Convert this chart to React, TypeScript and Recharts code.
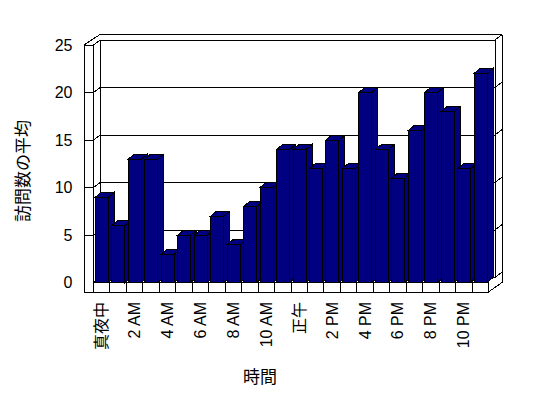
import { Bar, BarChart, CartesianGrid, Label, XAxis, YAxis } from 'recharts';

// Average visits per hour of day.
const HOURS = [
  '真夜中', '1 AM', '2 AM', '3 AM', '4 AM', '5 AM', '6 AM', '7 AM', '8 AM', '9 AM', '10 AM', '11 AM',
  '正午', '1 PM', '2 PM', '3 PM', '4 PM', '5 PM', '6 PM', '7 PM', '8 PM', '9 PM', '10 PM', '11 PM',
];
const VISITS = [9, 6, 13, 13, 3, 5, 5, 7, 4, 8, 10, 14, 14, 12, 15, 12, 20, 14, 11, 16, 20, 18, 12, 22];
const Y_TICKS = [0, 5, 10, 15, 20, 25];

const data = HOURS.map((hour, i) => ({ hour, visits: VISITS[i] }));

// Layout
const WIDTH = 548;
const HEIGHT = 398;
const PLOT_LEFT = 93.5;
const PLOT_RIGHT = 488.5;
const PLOT_TOP = 45;
const PLOT_BOTTOM = 282.5;
const XAXIS_H = 40;

// 3D box geometry
const DX = 6.5; // depth of the plot box, x
const DY = 5; // depth of the plot box, y
const WALL = 9.5; // left wall front face thickness
const OUT_DX = 7; // back wall thickness
const OUT_DY = 5.5;
const FLOOR = 9.5; // floor slab thickness
const BAR_DX = 6;
const BAR_DY = 5;

const NAVY = '#000080';
const FONT = "'Liberation Sans', Arial, 'Noto Sans CJK JP', sans-serif";
const LINE = { stroke: '#000', strokeWidth: 1, shapeRendering: 'crispEdges' as const };

function GridLine(props: any) {
  const { y1, index } = props;
  const L = props.x1 ?? PLOT_LEFT;
  const R = props.x2 ?? PLOT_RIGHT;
  const top = props.y ?? PLOT_TOP;
  const bottom = props.height != null ? top + props.height : PLOT_BOTTOM;
  const yb = y1 - DY;
  const isBottom = index === 0;
  const isTop = index === Y_TICKS.length - 1;
  const band = (R - L) / HOURS.length;
  const outerRight = R + DX + OUT_DX;

  return (
    <g {...LINE} fill="none">
      {/* tick on the left wall front, slant into the back wall, back wall line, right slant */}
      {!isBottom && <line x1={L - WALL} y1={y1} x2={L} y2={y1} />}
      <line x1={L} y1={y1} x2={L + DX} y2={yb} />
      <line x1={L + DX} y1={yb} x2={R + DX} y2={yb} />
      <line x1={R + DX} y1={yb} x2={outerRight} y2={yb - OUT_DY} />
      {isTop && (
        <>
          <line x1={L - WALL} y1={y1} x2={L + DX} y2={yb - OUT_DY} />
          <line x1={L + DX} y1={yb - OUT_DY} x2={outerRight} y2={yb - OUT_DY} />
        </>
      )}
      {isBottom && (
        <>
          {/* walls */}
          <line x1={L - WALL} y1={top} x2={L - WALL} y2={bottom + FLOOR} />
          <line x1={L} y1={top} x2={L} y2={bottom} />
          <line x1={L + DX} y1={top - DY} x2={L + DX} y2={bottom - DY} />
          <line x1={R + DX} y1={top - DY} x2={R + DX} y2={bottom - DY} />
          <line x1={outerRight} y1={top - DY - OUT_DY} x2={outerRight} y2={bottom} />
          {/* floor */}
          <rect x={L} y={bottom} width={R - L} height={FLOOR} fill="#fff" />
          <line x1={L - WALL} y1={bottom + FLOOR} x2={R} y2={bottom + FLOOR} />
          <line x1={R} y1={bottom + FLOOR} x2={outerRight} y2={bottom} />
          {HOURS.slice(1).map((h, i) => (
            <line key={h} x1={L + (i + 1) * band} y1={bottom} x2={L + (i + 1) * band} y2={bottom + FLOOR} />
          ))}
        </>
      )}
    </g>
  );
}

function Bar3D(props: any) {
  const { x, y, width, height } = props;
  if (height == null || height <= 0) return null;
  return (
    <g stroke="#000" strokeWidth={1} fill={NAVY} shapeRendering="crispEdges">
      <polygon
        points={`${x + width},${y + height} ${x + width},${y} ${x + width + BAR_DX},${y - BAR_DY} ${x + width + BAR_DX},${y + height - BAR_DY}`}
      />
      <polygon points={`${x},${y} ${x + BAR_DX},${y - BAR_DY} ${x + width + BAR_DX},${y - BAR_DY} ${x + width},${y}`} />
      <rect x={x} y={y} width={width} height={height} />
    </g>
  );
}

function XTick(props: any) {
  const { x, payload } = props;
  const y = PLOT_BOTTOM + 19.5;
  return (
    <text
      x={x}
      y={y}
      transform={`rotate(-90, ${x}, ${y})`}
      textAnchor="end"
      dominantBaseline="central"
      fontSize={16}
      fontFamily={FONT}
      fill="#000"
    >
      {payload.value}
    </text>
  );
}

function YTick(props: any) {
  const { y, payload } = props;
  return (
    <text x={PLOT_LEFT - 21} y={y} textAnchor="end" dominantBaseline="central" fontSize={16} fontFamily={FONT} fill="#000">
      {payload.value}
    </text>
  );
}

export default function App() {
  return (
    <div style={{ position: 'absolute', left: 0, top: 0, width: WIDTH, height: HEIGHT, background: '#fff' }}>
      <BarChart
        width={WIDTH}
        height={HEIGHT}
        data={data}
        margin={{ top: PLOT_TOP, right: WIDTH - PLOT_RIGHT, bottom: HEIGHT - PLOT_BOTTOM - XAXIS_H, left: 0 }}
      >
        <CartesianGrid vertical={false} horizontal={(p: any) => <GridLine key={p.key} {...p} />} />
        <XAxis
          dataKey="hour"
          height={XAXIS_H}
          interval={1}
          axisLine={false}
          tickLine={false}
          tick={<XTick />}
        >
          <Label
            content={() => (
              <text x={260} y={377} textAnchor="middle" dominantBaseline="central" fontSize={17} fontFamily={FONT} fill="#000">
                時間
              </text>
            )}
          />
        </XAxis>
        <YAxis
          width={PLOT_LEFT}
          domain={[0, 25]}
          ticks={Y_TICKS}
          axisLine={false}
          tickLine={false}
          tick={<YTick />}
        >
          <Label
            content={() => (
              <text
                x={23}
                y={171}
                transform="rotate(-90, 23, 171)"
                textAnchor="middle"
                dominantBaseline="central"
                fontSize={17}
                fontFamily={FONT}
                fill="#000"
              >
                訪問数の平均
              </text>
            )}
          />
        </YAxis>
        <Bar dataKey="visits" barSize={13} shape={<Bar3D />} isAnimationActive={false} />
      </BarChart>
    </div>
  );
}
